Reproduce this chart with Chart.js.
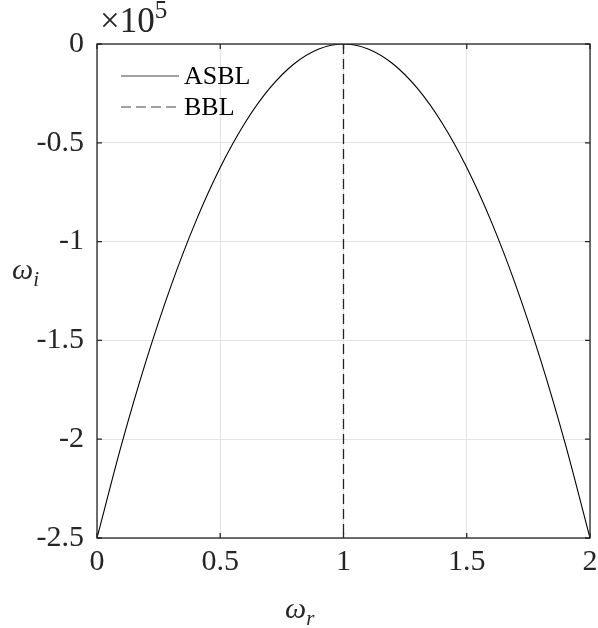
<!DOCTYPE html>
<html>
<head>
<meta charset="utf-8">
<script src="https://cdn.jsdelivr.net/npm/chart.js@4/dist/chart.umd.min.js"></script>
<style>
  html, body { margin: 0; padding: 0; background: #fff; }
  #wrap { position: relative; width: 598px; height: 628px; }
  .lbl { position: absolute; font-family: 'Liberation Serif', 'DejaVu Serif', serif; color: #262626; white-space: nowrap; }
  .lbl i { font-style: italic; }
  .lbl sub { font-size: 0.7em; vertical-align: -0.35em; line-height: 0; }
  .lbl sup { font-size: 0.72em; vertical-align: 0.55em; line-height: 0; }
</style>
</head>
<body>
<div id="wrap">
  <canvas id="chart" width="598" height="628"></canvas>
  <div class="lbl" style="left:100px; top:1px; font-size:35px;">&times;10<sup>5</sup></div>
  <div class="lbl" style="left:12px; top:252px; font-size:30px;"><i>&omega;<sub>i</sub></i></div>
  <div class="lbl" style="left:285px; top:591px; font-size:30px;"><i>&omega;<sub>r</sub></i></div>
</div>
<script>
// omega_r samples and omega_i values (in units of 10^5)
const omegaR = [0, 0.1, 0.2, 0.3, 0.4, 0.5, 0.6, 0.7, 0.8, 0.9, 1.0,
                1.1, 1.2, 1.3, 1.4, 1.5, 1.6, 1.7, 1.8, 1.9, 2.0];
const asblOmegaI = [-2.5, -2.025, -1.6, -1.225, -0.9, -0.625, -0.4, -0.225, -0.1, -0.025, 0,
                    -0.025, -0.1, -0.225, -0.4, -0.625, -0.9, -1.225, -1.6, -2.025, -2.5];
const bblOmegaR = [1, 1];
const bblOmegaI = [0, -2.5];

const xTicks = [0, 0.5, 1, 1.5, 2];
const yTicks = [0, -0.5, -1, -1.5, -2, -2.5];

const axisColor = '#262626';
const serif = "'Liberation Serif', 'DejaVu Serif', serif";

function toPoints(xs, ys) {
  return xs.map((x, i) => ({ x, y: ys[i] }));
}

// box + inward ticks, MATLAB style
const boxPlugin = {
  id: 'box',
  afterDraw(chart) {
    const { ctx, chartArea: a, scales } = chart;
    ctx.save();
    ctx.strokeStyle = axisColor;
    ctx.lineWidth = 1.3;
    ctx.strokeRect(a.left, a.top, a.right - a.left, a.bottom - a.top);
    ctx.beginPath();
    xTicks.forEach((v) => {
      const px = scales.x.getPixelForValue(v);
      ctx.moveTo(px, a.bottom); ctx.lineTo(px, a.bottom - 5);
      ctx.moveTo(px, a.top); ctx.lineTo(px, a.top + 5);
    });
    yTicks.forEach((v) => {
      const py = scales.y.getPixelForValue(v);
      ctx.moveTo(a.left, py); ctx.lineTo(a.left + 5, py);
      ctx.moveTo(a.right, py); ctx.lineTo(a.right - 5, py);
    });
    ctx.stroke();
    ctx.restore();
  },
};

// legend inside top-left corner
const legendPlugin = {
  id: 'innerLegend',
  afterDraw(chart) {
    const { ctx, chartArea: a } = chart;
    ctx.save();
    ctx.font = '26px ' + serif;
    ctx.textBaseline = 'middle';
    chart.data.datasets.forEach((ds, i) => {
      const y = a.top + 32 + i * 31;
      ctx.strokeStyle = '#444';
      ctx.lineWidth = 1;
      ctx.setLineDash(ds.borderDash || []);
      ctx.beginPath();
      ctx.moveTo(a.left + 24, y);
      ctx.lineTo(a.left + 82, y);
      ctx.stroke();
      ctx.setLineDash([]);
      ctx.fillStyle = '#000';
      ctx.fillText(ds.label, a.left + 87, y + 1);
    });
    ctx.restore();
  },
};

new Chart(document.getElementById('chart'), {
  type: 'line',
  data: {
    datasets: [
      {
        label: 'ASBL',
        data: toPoints(omegaR, asblOmegaI),
        borderColor: '#000',
        borderWidth: 1.1,
        pointRadius: 0,
        cubicInterpolationMode: 'monotone',
      },
      {
        label: 'BBL',
        data: toPoints(bblOmegaR, bblOmegaI),
        borderColor: '#222',
        borderWidth: 1.3,
        borderDash: [10, 5],
        pointRadius: 0,
      },
    ],
  },
  options: {
    responsive: false,
    animation: false,
    layout: { padding: { top: 44, right: 8, left: 0, bottom: 0 } },
    plugins: {
      legend: { display: false },
      tooltip: { enabled: false },
    },
    scales: {
      x: {
        type: 'linear',
        min: 0,
        max: 2,
        afterBuildTicks: (s) => { s.ticks = xTicks.map((v) => ({ value: v })); },
        afterFit: (s) => { s.height = 90; s.paddingLeft = 0; s.paddingRight = 0; },
        grid: { color: '#e3e3e3', drawTicks: false },
        border: { display: false },
        ticks: {
          padding: 6,
          color: axisColor,
          font: { family: serif, size: 30 },
          callback: (v) => String(v),
        },
      },
      y: {
        type: 'linear',
        min: -2.5,
        max: 0,
        afterBuildTicks: (s) => { s.ticks = yTicks.map((v) => ({ value: v })); },
        afterFit: (s) => { s.width = 97; s.paddingTop = 0; s.paddingBottom = 0; },
        grid: { color: '#e3e3e3', drawTicks: false },
        border: { display: false },
        ticks: {
          padding: 13,
          color: axisColor,
          font: { family: serif, size: 30 },
          callback: (v) => String(v),
        },
      },
    },
  },
  plugins: [boxPlugin, legendPlugin],
});
</script>
</body>
</html>
